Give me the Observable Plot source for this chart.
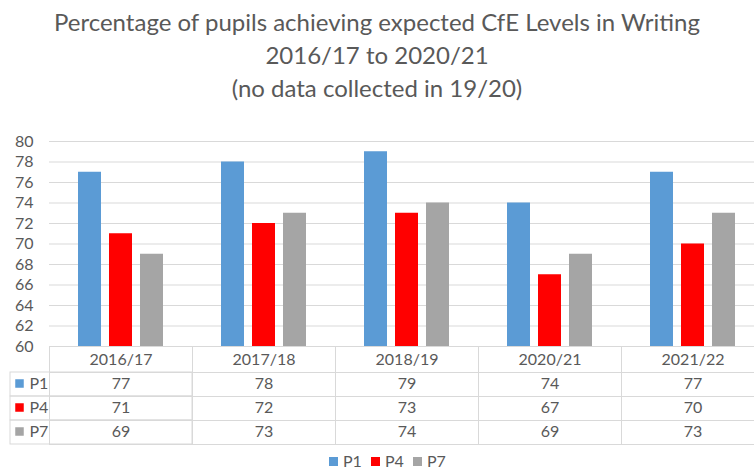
<!DOCTYPE html>
<html><head><meta charset="utf-8">
<script src="https://cdn.jsdelivr.net/npm/d3@7"></script>
<script src="https://cdn.jsdelivr.net/npm/@observablehq/plot@0.6"></script>
<style>
body{margin:0;background:#fff;}
#wrap{position:relative;width:754px;height:469px;overflow:hidden;font-family:Lato,"Open Sans",sans-serif;color:#595959;}
#title{position:absolute;top:5px;left:0;width:754px;text-align:center;font-size:24px;line-height:33px;}
#chart{position:absolute;top:110px;left:0;}
#legend{position:absolute;top:454px;left:329px;display:flex;font-size:16px;line-height:14px;height:14px;}
#legend span.item{display:flex;align-items:center;width:42px;height:14px;}
#legend span.sw{display:inline-block;width:9px;height:9px;margin-right:5px;}
</style></head>
<body>
<div id="wrap">
  <div id="title">Percentage of pupils achieving expected CfE Levels in Writing<br>2016/17 to 2020/21<br>(no data collected in 19/20)</div>
  <div id="chart"></div>
  <div id="legend"></div>
</div>
<script>
// ---- data ----
const years = ["2016/17", "2017/18", "2018/19", "2020/21", "2021/22"];
const series = ["P1", "P4", "P7"];
const P1 = [77, 78, 79, 74, 77];
const P4 = [71, 72, 73, 67, 70];
const P7 = [69, 73, 74, 69, 73];
const yTicks = [60, 62, 64, 66, 68, 70, 72, 74, 76, 78, 80];
const colors = ["#5b9bd5", "#ff0000", "#a5a5a5"];

// ---- layout ----
const gridColor = "#d9d9d9";
const marginTop = 31, plotH = 205, tableH = 100;
const height = marginTop + plotH + tableH;
const rowEdges = [0, 26, 50, 74, 98];
const rowText = [13, 37, 61, 85];
const yMin = yTicks[0], yMax = yTicks[yTicks.length - 1];

const seriesVals = [P1, P4, P7];
const data = years.flatMap((year, i) =>
  series.map((s, j) => ({year, series: s, value: seriesVals[j][i]})));

const marks = [
  Plot.ruleY(yTicks, {stroke: gridColor}),
  Plot.barY(data, {fx: "year", x: "series", y1: () => yMin, y2: "value", fill: "series"}),
  // table header and cells (one column per facet)
  ...[0, 1, 2, 3].map(i => Plot.frame({stroke: gridColor, insetTop: plotH + rowEdges[i], insetBottom: -rowEdges[i + 1]})),
  // extension of the data rows into the row-label column
  ...[1, 2, 3].map(i => Plot.rect([years[0]], {fx: d => d, insetLeft: -39, insetTop: plotH + rowEdges[i], insetBottom: -rowEdges[i + 1], stroke: gridColor, fill: "none"})),
  Plot.text(years, {fx: d => d, text: d => d, frameAnchor: "bottom", lineAnchor: "middle", dy: rowText[0]}),
  ...series.map((s, j) => Plot.text(data.filter(d => d.series === s), {fx: "year", text: "value", frameAnchor: "bottom", lineAnchor: "middle", dy: rowText[j + 1]})),
  // row labels
  ...series.map((s, j) => Plot.dot([s], {fx: () => years[0], frameAnchor: "bottom-left", dx: -30, dy: rowText[j + 1], symbol: "square", r: 4.8, fill: colors[j], stroke: null})),
  ...series.map((s, j) => Plot.text([s], {fx: () => years[0], text: d => d, frameAnchor: "bottom-left", lineAnchor: "middle", textAnchor: "start", dx: -20, dy: rowText[j + 1]}))
];

const chart = Plot.plot({
  width: 764,
  height,
  marginLeft: 49,
  marginRight: 0,
  marginTop,
  marginBottom: tableH,
  style: {fontSize: "16px", fontFamily: "Lato, 'Open Sans', sans-serif", color: "#595959", background: "white", maxWidth: "none", overflow: "visible"},
  fx: {domain: years, padding: 0, axis: null},
  x: {domain: series, axis: null, paddingInner: 0.25, paddingOuter: 0.86},
  y: {domain: [yMin, yMax], ticks: yTicks, tickSize: 0, tickPadding: 16, label: null},
  color: {domain: series, range: colors},
  marks
});
document.getElementById("chart").appendChild(chart);

const legend = document.getElementById("legend");
series.forEach((s, j) => {
  const item = document.createElement("span");
  item.className = "item";
  const sw = document.createElement("span");
  sw.className = "sw";
  sw.style.background = colors[j];
  item.appendChild(sw);
  item.appendChild(document.createTextNode(s));
  legend.appendChild(item);
});
</script>
</body></html>
